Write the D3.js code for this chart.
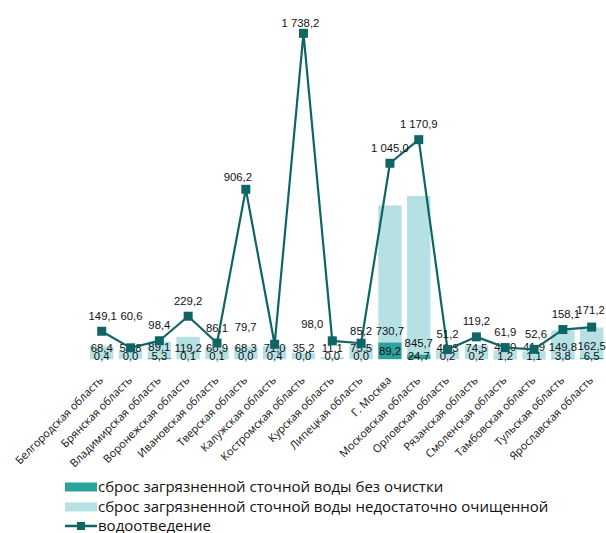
<!DOCTYPE html>
<html><head><meta charset="utf-8">
<script src="https://cdn.jsdelivr.net/npm/d3@7/dist/d3.min.js"></script>
<style>
html,body{margin:0;padding:0;background:#fff;}
svg{display:block;}
</style>
</head><body>
<svg id="chart" width="606" height="533"></svg>
<script>
const categories = ["Белгородская область","Брянская область","Владимирская область","Воронежская область","Ивановская область","Тверская область","Калужская область","Костромская область","Курская область","Липецкая область","Г. Москва","Московская область","Орловская область","Рязанская область","Смоленская область","Тамбовская область","Тульская область","Ярославская область"];
const untreated = [0.4,0.0,5.3,0.1,0.1,0.0,0.4,0.0,0.0,0.0,89.2,24.7,0.2,0.2,1.2,1.1,3.8,6.5];
const insufficient = [68.4,50.8,89.1,119.2,60.9,68.3,71.0,35.2,11.1,75.5,730.7,845.7,46.3,74.5,45.0,41.9,149.8,162.5];
const drainage = [149.1,60.6,98.4,229.2,86.1,906.2,79.7,1738.2,98.0,85.2,1045.0,1170.9,51.2,119.2,61.9,52.6,158.1,171.2];
const seriesNames = ["сброс загрязненной сточной воды без очистки","сброс загрязненной сточной воды недостаточно очищенной","водоотведение"];
// manual label nudges for the line labels [dx, dy]
const lineLabelNudge = [[1,0],[1,-16],[0,0],[0,0],[0,0],[-8,3],[-29,-2],[-3,5],[-20,-1],[0,3],[0,0],[0,0],[0,0],[0,0],[0,0],[2,0],[3,0],[-1,-2]];

const colDark = "#2aa39b", colLight = "#b5e1e5", colLine = "#0f6464";
const svg = d3.select("#chart");
const ru = d3.formatLocale({decimal:",", thousands:"\u00a0", grouping:[3], currency:["",""]});
const fmt = ru.format(",.1f");

const x = d3.scaleBand().domain(categories).range([87.3, 606.1]).paddingInner(0.19).paddingOuter(0.095);
const y = d3.scaleLinear().domain([0, 1800]).range([359.2, 21.7]);
const cx = d => x(d) + x.bandwidth()/2;

// stacked bars
const g = svg.append("g");
g.selectAll("rect.light").data(categories).join("rect")
  .attr("x", d => x(d)).attr("width", x.bandwidth())
  .attr("y", (d,i) => y(untreated[i] + insufficient[i]))
  .attr("height", (d,i) => y(untreated[i]) - y(untreated[i] + insufficient[i]))
  .attr("fill", colLight);
g.selectAll("rect.dark").data(categories).join("rect")
  .attr("x", d => x(d)).attr("width", x.bandwidth())
  .attr("y", (d,i) => y(untreated[i]))
  .attr("height", (d,i) => y(0) - y(untreated[i]))
  .attr("fill", colDark);

// bar labels
const numFont = "'Liberation Sans', Arial, sans-serif";
g.selectAll("text.lv").data(categories).join("text")
  .attr("x", d => cx(d)).attr("y", (d,i) => y(untreated[i]) - 11.5)
  .attr("dy", "0.35em").attr("text-anchor", "middle")
  .attr("font-family", numFont).attr("font-size", 11.3).attr("fill", "#111")
  .text((d,i) => fmt(insufficient[i]));
g.selectAll("text.dv").data(categories).join("text")
  .attr("x", d => cx(d))
  .attr("y", (d,i) => Math.min((y(0) + y(untreated[i]))/2, y(0) - 3))
  .attr("dy", "0.35em").attr("text-anchor", "middle")
  .attr("font-family", numFont).attr("font-size", 11.3).attr("fill", "#111")
  .text((d,i) => fmt(untreated[i]));

// line
const line = d3.line().x((v,i) => cx(categories[i])).y(v => y(v));
svg.append("path").datum(drainage).attr("d", line)
  .attr("fill", "none").attr("stroke", colLine).attr("stroke-width", 2.2).attr("stroke-linejoin", "round");
svg.selectAll("rect.mk").data(drainage).join("rect")
  .attr("x", (v,i) => cx(categories[i]) - 4.5).attr("y", v => y(v) - 4.5)
  .attr("width", 9).attr("height", 9).attr("fill", colLine);
svg.selectAll("text.ll").data(drainage).join("text")
  .attr("x", (v,i) => cx(categories[i]) + lineLabelNudge[i][0])
  .attr("y", (v,i) => y(v) - 15.5 + lineLabelNudge[i][1])
  .attr("dy", "0.35em").attr("text-anchor", "middle")
  .attr("font-family", numFont).attr("font-size", 11.3).attr("fill", "#111")
  .text(v => fmt(v));

// x axis labels
const ax = svg.append("g").attr("transform", "translate(0,366)")
  .call(d3.axisBottom(x).tickSize(0).tickPadding(0));
ax.select(".domain").remove();
ax.selectAll("text")
  .attr("font-family", "'Open Sans', sans-serif").attr("font-size", 11).attr("fill", "#111")
  .attr("text-anchor", "end").attr("y", 0).attr("x", 0).attr("dy", "0.35em")
  .attr("transform", "translate(-0.5,12.3) rotate(-45)");

// legend
const lg = svg.append("g").attr("font-family", "'Open Sans', sans-serif").attr("font-size", 15).attr("fill", "#111");
const rows = [487, 507, 526];
lg.append("rect").attr("x", 65).attr("y", rows[0]-4.5).attr("width", 32).attr("height", 9).attr("fill", colDark);
lg.append("rect").attr("x", 65).attr("y", rows[1]-4.5).attr("width", 32).attr("height", 9).attr("fill", colLight);
lg.append("line").attr("x1", 65).attr("x2", 97).attr("y1", rows[2]).attr("y2", rows[2]).attr("stroke", colLine).attr("stroke-width", 2.5);
lg.append("rect").attr("x", 77).attr("y", rows[2]-4).attr("width", 8).attr("height", 8).attr("fill", colLine);
lg.selectAll("text").data(seriesNames).join("text")
  .attr("x", 98).attr("y", (d,i) => rows[i]).attr("dy", "0.35em").text(d => d);
</script>
</body></html>
